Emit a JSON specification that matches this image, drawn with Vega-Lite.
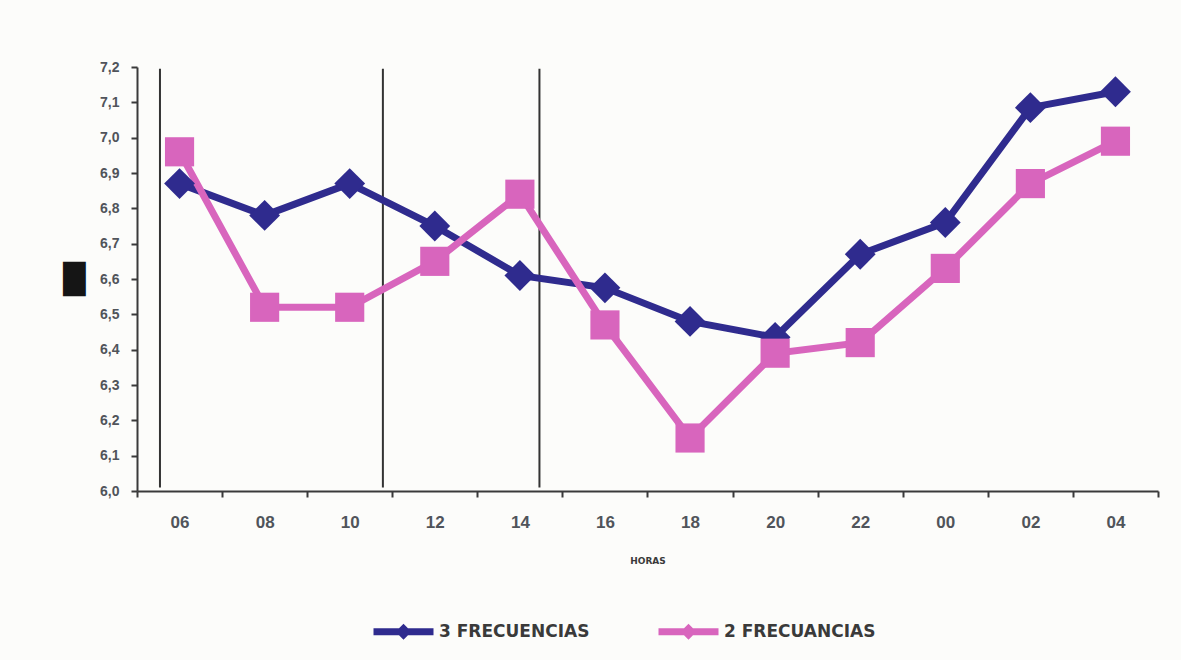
{
  "$schema": "https://vega.github.io/schema/vega-lite/v6.json",
  "width": 1021,
  "height": 424,
  "autosize": {"type": "none"},
  "padding": {"left": 137, "top": 67, "right": 23, "bottom": 169},
  "background": "#fcfcfa",
  "config": {
    "view": {"stroke": null},
    "font": "DejaVu Sans",
    "axis": {"grid": false, "domainColor": "#3a3a3a", "domainWidth": 2, "tickColor": "#3a3a3a", "tickWidth": 2, "labelColor": "#50545a", "labelFontWeight": "bold", "labelFont": "Liberation Sans"}
  },
  "datasets": {
    "series": [
      {"hora": "06", "serie": "3 FRECUENCIAS", "valor": 6.87},
      {"hora": "08", "serie": "3 FRECUENCIAS", "valor": 6.78},
      {"hora": "10", "serie": "3 FRECUENCIAS", "valor": 6.87},
      {"hora": "12", "serie": "3 FRECUENCIAS", "valor": 6.75},
      {"hora": "14", "serie": "3 FRECUENCIAS", "valor": 6.61},
      {"hora": "16", "serie": "3 FRECUENCIAS", "valor": 6.575},
      {"hora": "18", "serie": "3 FRECUENCIAS", "valor": 6.48},
      {"hora": "20", "serie": "3 FRECUENCIAS", "valor": 6.435},
      {"hora": "22", "serie": "3 FRECUENCIAS", "valor": 6.67},
      {"hora": "00", "serie": "3 FRECUENCIAS", "valor": 6.76},
      {"hora": "02", "serie": "3 FRECUENCIAS", "valor": 7.085},
      {"hora": "04", "serie": "3 FRECUENCIAS", "valor": 7.13},
      {"hora": "06", "serie": "2 FRECUANCIAS", "valor": 6.96},
      {"hora": "08", "serie": "2 FRECUANCIAS", "valor": 6.52},
      {"hora": "10", "serie": "2 FRECUANCIAS", "valor": 6.52},
      {"hora": "12", "serie": "2 FRECUANCIAS", "valor": 6.65},
      {"hora": "14", "serie": "2 FRECUANCIAS", "valor": 6.84},
      {"hora": "16", "serie": "2 FRECUANCIAS", "valor": 6.47},
      {"hora": "18", "serie": "2 FRECUANCIAS", "valor": 6.15},
      {"hora": "20", "serie": "2 FRECUANCIAS", "valor": 6.39},
      {"hora": "22", "serie": "2 FRECUANCIAS", "valor": 6.42},
      {"hora": "00", "serie": "2 FRECUANCIAS", "valor": 6.63},
      {"hora": "02", "serie": "2 FRECUANCIAS", "valor": 6.87},
      {"hora": "04", "serie": "2 FRECUANCIAS", "valor": 6.99}
    ]
  },
  "layer": [
    {
      "data": {"values": [{"hora": "06"}]},
      "mark": {"type": "rule", "color": "#333333", "strokeWidth": 2},
      "encoding": {
        "x": {"field": "hora", "type": "ordinal", "bandPosition": 0.27},
        "y": {"datum": 7.195},
        "y2": {"datum": 6.01}
      }
    },
    {
      "data": {"values": [{"hora": "10"}]},
      "mark": {"type": "rule", "color": "#333333", "strokeWidth": 2},
      "encoding": {
        "x": {"field": "hora", "type": "ordinal", "bandPosition": 0.89},
        "y": {"datum": 7.195},
        "y2": {"datum": 6.01}
      }
    },
    {
      "data": {"values": [{"hora": "14"}]},
      "mark": {"type": "rule", "color": "#333333", "strokeWidth": 2},
      "encoding": {
        "x": {"field": "hora", "type": "ordinal", "bandPosition": 0.73},
        "y": {"datum": 7.195},
        "y2": {"datum": 6.01}
      }
    },
    {
      "data": {"name": "series"},
      "mark": {"type": "line", "strokeWidth": 7},
      "encoding": {
        "x": {"field": "hora", "type": "ordinal", "bandPosition": 0.5},
        "y": {"field": "valor", "type": "quantitative"},
        "stroke": {
          "field": "serie", "type": "nominal",
          "scale": {"domain": ["3 FRECUENCIAS", "2 FRECUANCIAS"], "range": ["#2f2b8e", "#d865bd"]},
          "legend": {
            "title": null, "orient": "none", "legendX": 233, "legendY": 531, "direction": "horizontal",
            "symbolType": "M-1,0H1M-0.1,0L0,-0.1L0.1,0L0,0.1Z",
            "symbolSize": 3600, "symbolStrokeWidth": 7,
            "labelFont": "DejaVu Sans", "labelFontSize": 17, "labelFontWeight": "bold", "labelColor": "#3a3a3a",
            "labelOffset": 2, "columnPadding": 54
          }
        }
      }
    },
    {
      "data": {"name": "series"},
      "transform": [{"filter": "datum.serie === '3 FRECUENCIAS'"}],
      "mark": {"type": "point", "filled": true, "size": 950, "opacity": 1, "shape": "diamond", "color": "#2f2b8e"},
      "encoding": {
        "x": {"field": "hora", "type": "ordinal", "bandPosition": 0.5},
        "y": {"field": "valor", "type": "quantitative"}
      }
    },
    {
      "data": {"name": "series"},
      "transform": [{"filter": "datum.serie === '2 FRECUANCIAS'"}],
      "mark": {"type": "point", "filled": true, "size": 850, "opacity": 1, "shape": "square", "color": "#d865bd"},
      "encoding": {
        "x": {"field": "hora", "type": "ordinal", "bandPosition": 0.5},
        "y": {"field": "valor", "type": "quantitative"}
      }
    }
  ],
  "encoding": {
    "x": {
      "field": "hora", "type": "ordinal",
      "sort": ["06", "08", "10", "12", "14", "16", "18", "20", "22", "00", "02", "04"],
      "scale": {"type": "band", "paddingInner": 0, "paddingOuter": 0},
      "axis": {"title": "HORAS", "titleFont": "DejaVu Sans", "titleFontSize": 9, "titleFontWeight": "bold", "titleColor": "#3a3a3a", "titlePadding": 26, "labelAngle": 0, "labelFontSize": 17, "labelPadding": 17, "tickSize": 6, "tickBand": "extent"}
    },
    "y": {
      "type": "quantitative",
      "scale": {"domain": [6.0, 7.2], "nice": false, "zero": false},
      "axis": {"values": [6.0, 6.1, 6.2, 6.3, 6.4, 6.5, 6.6, 6.7, 6.8, 6.9, 7.0, 7.1, 7.2], "labelExpr": "replace(format(datum.value, '.1f'), '.', ',')", "labelFontSize": 14, "labelPadding": 12, "tickSize": 6, "title": "█", "titleAngle": 0, "titleFontSize": 29, "titleColor": "#151515", "titleFontWeight": "normal", "titlePadding": 26, "titleBaseline": "middle"}
    }
  }
}
